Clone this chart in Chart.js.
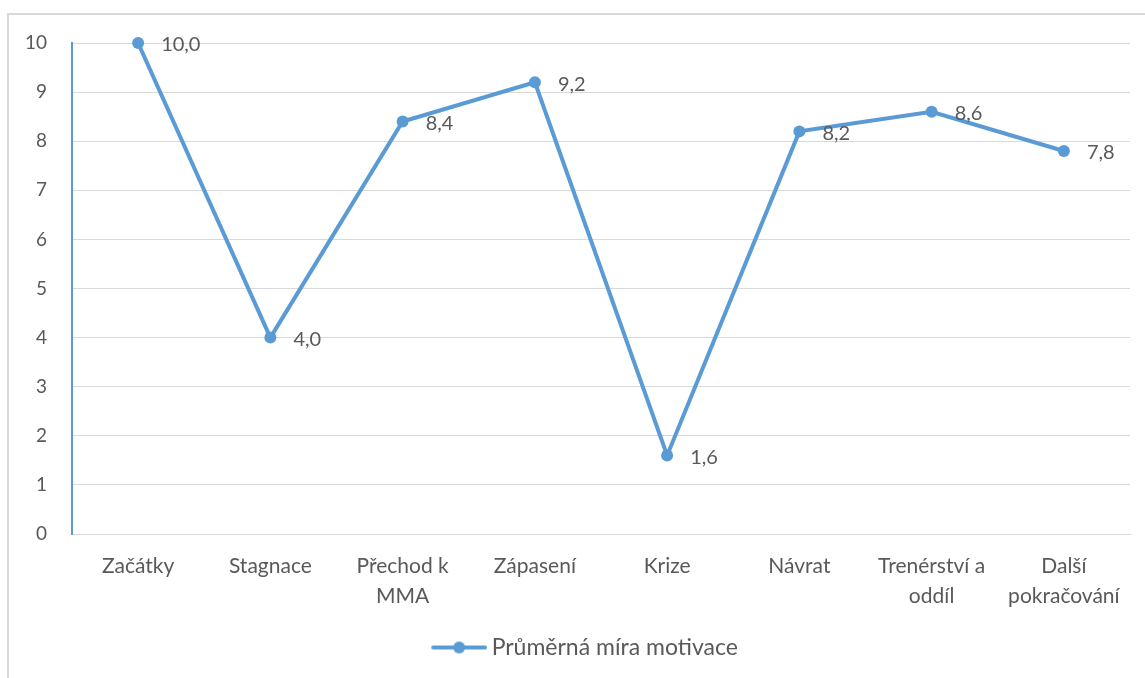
<!DOCTYPE html>
<html>
<head>
<meta charset="utf-8">
<script src="https://cdn.jsdelivr.net/npm/chart.js@4"></script>
<style>
  html, body { margin: 0; padding: 0; background: #fff; }
  #wrap { width: 1145px; height: 678px; }
</style>
</head>
<body>
<div id="wrap"><canvas id="lineChart" width="1145" height="678"></canvas></div>
<script>
// Données du graphique
const categories = ['Začátky', 'Stagnace', ['Přechod k', 'MMA'], 'Zápasení', 'Krize', 'Návrat', ['Trenérství a', 'oddíl'], ['Další', 'pokračování']];
const motivace = [10.0, 4.0, 8.4, 9.2, 1.6, 8.2, 8.6, 7.8];
const yTicks = [0, 1, 2, 3, 4, 5, 6, 7, 8, 9, 10];

const blue = '#5B9BD5';
const textGrey = '#595959';

// Icône de la légende : trait avec un point au milieu (marge vide à gauche)
const legendIcon = document.createElement('canvas');
legendIcon.width = 94;
legendIcon.height = 14;
(function () {
  const c = legendIcon.getContext('2d');
  c.strokeStyle = blue;
  c.lineWidth = 4;
  c.lineCap = 'round';
  c.beginPath();
  c.moveTo(40, 7);
  c.lineTo(92, 7);
  c.stroke();
  c.fillStyle = blue;
  c.beginPath();
  c.arc(66, 7, 6, 0, Math.PI * 2);
  c.fill();
})();

// Cadre gris autour du graphique
const frame = {
  id: 'frame',
  beforeDraw(chart) {
    const c = chart.ctx;
    c.save();
    c.fillStyle = '#fff';
    c.fillRect(0, 0, chart.width, chart.height);
    c.strokeStyle = '#d9d9d9';
    c.lineWidth = 2;
    c.strokeRect(8, 14, 1200, 700);
    c.restore();
  }
};

// Étiquettes des valeurs à droite des points
const valueLabels = {
  id: 'valueLabels',
  afterDatasetsDraw(chart) {
    const c = chart.ctx;
    const meta = chart.getDatasetMeta(0);
    c.save();
    c.font = '20px Lato';
    c.fillStyle = textGrey;
    c.textAlign = 'left';
    c.textBaseline = 'middle';
    meta.data.forEach((pt, i) => {
      c.fillText(motivace[i].toFixed(1).replace('.', ','), pt.x + 23, pt.y + 2);
    });
    c.restore();
  }
};

const ctx = document.getElementById('lineChart').getContext('2d');

const myChart = new Chart(ctx, {
  type: 'line',
  data: {
    labels: categories,
    datasets: [{
      label: 'Průměrná míra motivace',
      data: motivace,
      borderColor: blue,
      backgroundColor: blue,
      borderWidth: 4,
      pointRadius: 6,
      pointHoverRadius: 6,
      pointBackgroundColor: blue,
      pointBorderWidth: 0,
      tension: 0,
      clip: false
    }]
  },
  options: {
    responsive: false,
    animation: false,
    layout: { padding: { left: 8, right: 15, top: 43, bottom: 9 } },
    scales: {
      x: {
        offset: true,
        grid: { display: false, drawTicks: false },
        border: { color: '#d9d9d9', width: 1 },
        ticks: {
          color: textGrey,
          font: { family: 'Lato', size: 21, lineHeight: 1.4 },
          padding: 18,
          maxRotation: 0,
          autoSkip: false
        },
        afterFit(scale) { scale.height = 92; }
      },
      y: {
        min: 0,
        max: 10,
        afterBuildTicks(scale) { scale.ticks = yTicks.map(v => ({ value: v })); },
        grid: { color: '#d9d9d9', lineWidth: 1, drawTicks: false },
        border: { color: blue, width: 2 },
        ticks: {
          color: textGrey,
          font: { family: 'Lato', size: 19 },
          padding: 25
        },
        afterFit(scale) { scale.width = 64; }
      }
    },
    plugins: {
      legend: {
        position: 'bottom',
        labels: {
          color: textGrey,
          font: { family: 'Lato', size: 23 },
          usePointStyle: true,
          pointStyle: legendIcon,
          pointStyleWidth: 80,
          padding: 10,
          generateLabels(chart) {
            return [{
              text: chart.data.datasets[0].label,
              pointStyle: legendIcon,
              fillStyle: blue,
              strokeStyle: blue,
              lineWidth: 0,
              fontColor: textGrey,
              datasetIndex: 0
            }];
          }
        }
      },
      tooltip: { enabled: false }
    }
  },
  plugins: [frame, valueLabels]
});
</script>
</body>
</html>
